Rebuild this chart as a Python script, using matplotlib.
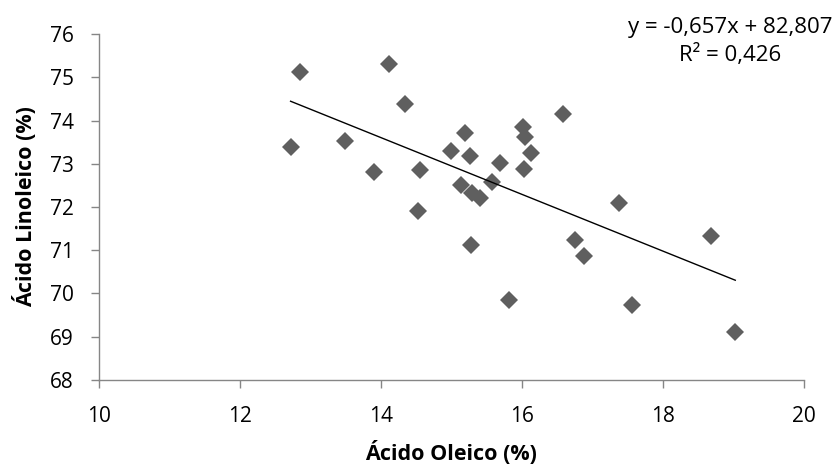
import numpy as np
import matplotlib.pyplot as plt

# Data
oleico = [12.72, 12.85, 13.49, 13.91, 14.11, 14.34, 14.55, 14.53, 14.99, 15.20,
          15.27, 15.14, 15.29, 15.41, 15.28, 15.58, 15.69, 15.82, 16.02, 16.05,
          16.03, 16.13, 16.59, 16.75, 16.88, 17.38, 17.57, 18.69, 19.03]
linoleico = [73.40, 75.12, 73.54, 72.82, 75.31, 74.39, 72.86, 71.91, 73.30, 73.71,
             73.19, 72.51, 72.33, 72.20, 71.12, 72.58, 73.01, 69.84, 73.85, 73.63,
             72.89, 73.26, 74.15, 71.23, 70.87, 72.09, 69.72, 71.34, 69.11]

# Trendline from the equation shown on the chart
slope = -0.657
intercept = 82.807
r2 = 0.426

plt.rcParams['font.family'] = ['Open Sans', 'DejaVu Sans']

fig = plt.figure(figsize=(8.38, 4.65), dpi=100)
ax = fig.add_axes([0.118, 0.1834, 0.841, 0.7428])

ax.plot(oleico, linoleico, 'D', color='#5f5f5f', markersize=9.5, markeredgewidth=0)

xs = np.array([min(oleico), max(oleico)])
ax.plot(xs, slope * xs + intercept, '-', color='black', linewidth=1)

ax.set_xlim(10, 20)
ax.set_ylim(68, 76)
ax.set_xticks(np.arange(10, 21, 2))
ax.set_yticks(np.arange(68, 77, 1))

for side in ['top', 'right']:
    ax.spines[side].set_visible(False)
for side in ['left', 'bottom']:
    ax.spines[side].set_color('#868686')
    ax.spines[side].set_linewidth(1)
ax.tick_params(axis='both', direction='out', length=6, width=1, color='#868686',
               labelsize=15)
ax.tick_params(axis='x', pad=13)
ax.tick_params(axis='y', pad=12)

ax.set_xlabel('Ácido Oleico (%)', fontsize=15.5, fontweight='bold', labelpad=10)
ax.set_ylabel('Ácido Linoleico (%)', fontsize=15.5, fontweight='bold', labelpad=9)

eq = 'y = -0,657x + %s\nR² = %s' % ('82,807', '0,426')
fig.text(0.871, 0.91, eq, ha='center', va='center', fontsize=16, linespacing=1.35)

fig.savefig('out.png', dpi=100)
